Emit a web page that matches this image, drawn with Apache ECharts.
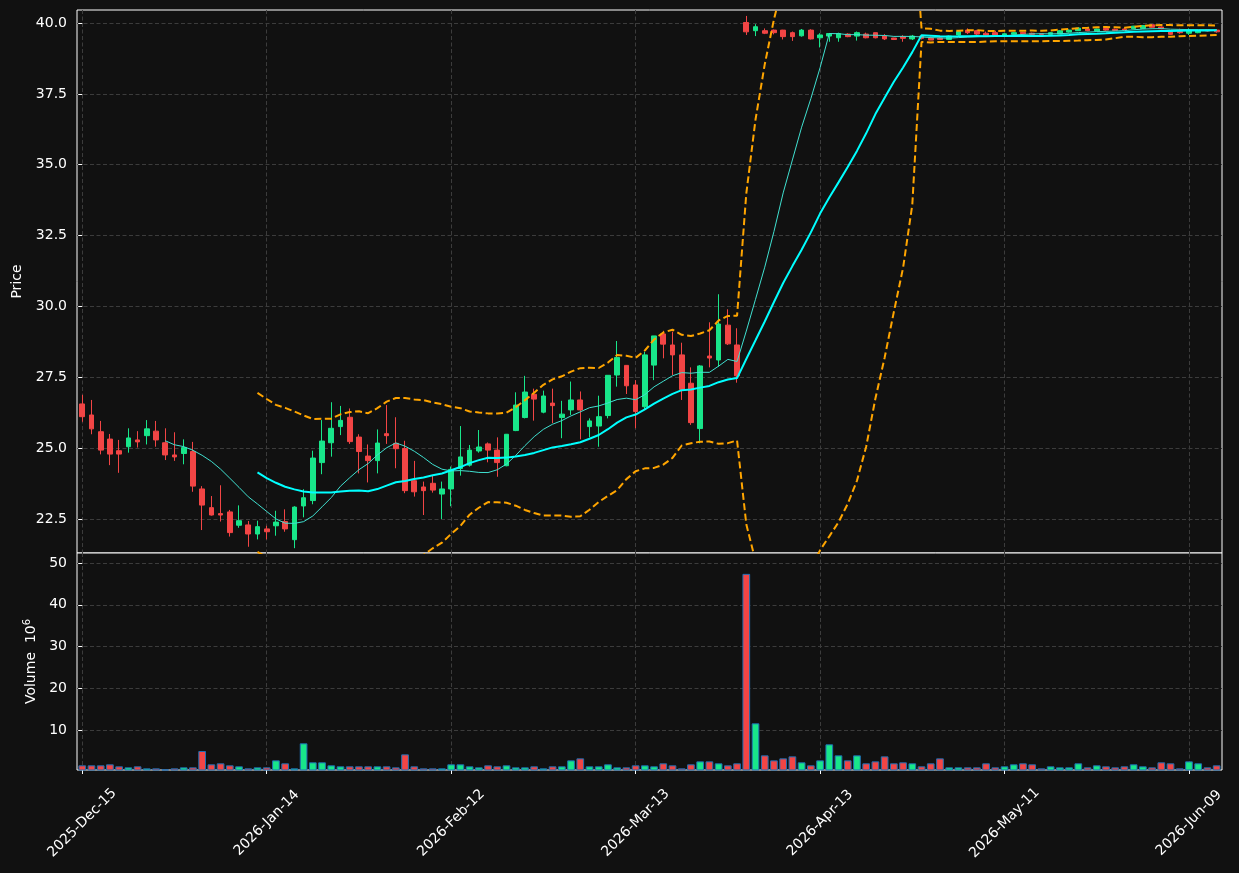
<!DOCTYPE html>
<html>
<head>
<meta charset="utf-8">
<title>Price / Volume</title>
<script src="https://cdn.jsdelivr.net/npm/echarts@6/dist/echarts.min.js"></script>
<style>
  html, body { margin: 0; padding: 0; background: #111111; }
  #main { width: 1239px; height: 873px; }
</style>
</head>
<body>
<div id="main"></div>
<script>
// x ticks: trading-day index -> label
const tickIdx = [0, 20, 40, 60, 80, 100, 120];
const tickLabels = ['2025-Dec-15', '2026-Jan-14', '2026-Feb-12', '2026-Mar-13', '2026-Apr-13', '2026-May-11', '2026-Jun-09'];
const priceTicks = [22.5, 25.0, 27.5, 30.0, 32.5, 35.0, 37.5, 40.0];
const volTicks = [10, 20, 30, 40, 50];

// OHLC
const opens = [
  26.56, 26.17, 25.58, 25.32, 24.91, 25.05, 25.29, 25.44, 25.60, 25.19,
  24.76, 24.81, 24.88, 23.56, 22.90, 22.69, 22.75, 22.28, 22.29, 21.97,
  22.15, 22.26, 22.41, 21.77, 22.96, 23.15, 24.49, 25.19, 25.76, 26.09,
  25.39, 24.72, 24.56, 25.51, 25.17, 24.99, 23.85, 23.63, 23.76, 23.38,
  23.56, 24.28, 24.40, 24.90, 25.15, 24.93, 24.38, 25.62, 26.08, 26.90,
  26.27, 26.59, 26.08, 26.35, 26.70, 25.76, 25.78, 26.15, 27.58, 27.92,
  27.23, 26.46, 27.93, 29.03, 28.64, 28.29, 27.29, 25.69, 28.25, 28.11,
  29.34, 28.64, 40.02, 39.73, 39.73, 39.75, 39.75, 39.66, 39.55, 39.75,
  39.48, 39.54, 39.48, 39.61, 39.54, 39.61, 39.66, 39.54, 39.47, 39.52,
  39.44, 39.54, 39.47, 39.47, 39.42, 39.58, 39.75, 39.73, 39.64, 39.66,
  39.56, 39.60, 39.67, 39.64, 39.62, 39.60, 39.61, 39.68, 39.73, 39.79,
  39.71, 39.81, 39.78, 39.79, 39.80, 39.81, 39.94, 39.86, 39.70, 39.70,
  39.64, 39.66, 39.76, 39.75
];
const highs = [
  26.88, 26.70, 25.96, 25.50, 25.29, 25.70, 25.60, 25.99, 25.96, 25.70,
  25.56, 25.31, 25.22, 23.66, 23.31, 23.69, 22.82, 22.98, 22.43, 22.44,
  22.26, 22.79, 22.84, 22.95, 23.55, 24.91, 25.99, 26.62, 26.49, 26.40,
  25.49, 25.13, 25.66, 26.52, 26.09, 25.26, 24.55, 23.82, 24.03, 23.82,
  24.35, 25.78, 25.11, 25.64, 25.20, 25.38, 25.50, 26.97, 27.55, 27.10,
  27.03, 27.10, 26.67, 27.35, 27.00, 26.05, 26.85, 27.58, 28.78, 27.93,
  27.40, 28.40, 28.96, 29.14, 29.11, 28.72, 27.85, 27.93, 29.44, 30.43,
  29.90, 29.23, 40.25, 39.96, 39.81, 39.77, 39.76, 39.70, 39.79, 39.78,
  39.64, 39.65, 39.66, 39.64, 39.70, 39.66, 39.66, 39.61, 39.48, 39.57,
  39.58, 39.58, 39.52, 39.50, 39.56, 39.72, 39.81, 39.76, 39.70, 39.73,
  39.64, 39.68, 39.69, 39.66, 39.63, 39.68, 39.75, 39.77, 39.85, 39.81,
  39.80, 39.83, 39.80, 39.80, 39.90, 39.92, 39.96, 39.88, 39.72, 39.80,
  39.81, 39.76, 39.78, 39.78
];
const lows = [
  25.93, 25.49, 24.78, 24.40, 24.13, 24.84, 25.02, 25.13, 25.05, 24.58,
  24.55, 24.43, 23.46, 22.11, 22.62, 22.41, 21.88, 22.19, 21.52, 21.78,
  21.78, 21.91, 22.05, 21.47, 22.56, 23.02, 24.08, 24.70, 25.46, 25.15,
  24.11, 23.79, 24.11, 25.15, 24.29, 23.41, 23.29, 22.64, 23.43, 22.50,
  22.95, 24.03, 24.35, 24.84, 24.50, 23.99, 24.36, 25.60, 26.05, 25.97,
  26.23, 25.88, 25.35, 26.17, 25.31, 25.38, 25.05, 26.05, 27.17, 26.91,
  25.70, 26.37, 27.40, 28.17, 27.58, 26.70, 25.82, 25.17, 27.85, 27.87,
  28.64, 27.31, 39.58, 39.54, 39.61, 39.60, 39.42, 39.37, 39.52, 39.42,
  39.14, 39.34, 39.34, 39.50, 39.38, 39.46, 39.46, 39.40, 39.40, 39.34,
  39.40, 39.42, 39.40, 39.40, 39.40, 39.56, 39.61, 39.58, 39.55, 39.56,
  39.54, 39.58, 39.60, 39.58, 39.58, 39.59, 39.60, 39.66, 39.72, 39.71,
  39.70, 39.73, 39.72, 39.74, 39.78, 39.80, 39.84, 39.78, 39.58, 39.62,
  39.58, 39.64, 39.70, 39.66
];
const closes = [
  26.11, 25.68, 24.93, 24.79, 24.79, 25.36, 25.22, 25.68, 25.29, 24.76,
  24.69, 25.02, 23.66, 22.99, 22.64, 22.64, 22.02, 22.44, 21.97, 22.23,
  22.05, 22.39, 22.15, 22.92, 23.25, 24.65, 25.25, 25.70, 25.98, 25.23,
  24.88, 24.56, 25.18, 25.44, 24.98, 23.50, 23.46, 23.50, 23.52, 23.56,
  24.25, 24.69, 24.93, 25.04, 24.93, 24.49, 25.49, 26.52, 26.98, 26.73,
  26.84, 26.50, 26.20, 26.70, 26.35, 25.96, 26.11, 27.57, 28.20, 27.20,
  26.29, 28.29, 28.96, 28.67, 28.29, 27.07, 25.90, 27.90, 28.18, 29.38,
  28.68, 27.55, 39.69, 39.87, 39.64, 39.66, 39.52, 39.52, 39.75, 39.44,
  39.58, 39.63, 39.63, 39.52, 39.66, 39.48, 39.48, 39.44, 39.42, 39.46,
  39.54, 39.46, 39.40, 39.42, 39.54, 39.70, 39.66, 39.61, 39.57, 39.58,
  39.62, 39.66, 39.62, 39.60, 39.60, 39.66, 39.73, 39.75, 39.82, 39.73,
  39.79, 39.75, 39.74, 39.76, 39.89, 39.91, 39.85, 39.80, 39.60, 39.66,
  39.73, 39.73, 39.72, 39.69
];
// volume in millions
const volumes = [
  1.54, 1.54, 1.54, 1.78, 1.30, 1.06, 1.30, 0.82, 0.82, 0.58,
  0.82, 1.06, 1.06, 4.97, 1.78, 2.02, 1.54, 1.30, 0.82, 1.06,
  1.06, 2.73, 2.02, 0.82, 6.81, 2.26, 2.26, 1.54, 1.30, 1.30,
  1.30, 1.30, 1.30, 1.30, 1.06, 4.17, 1.30, 0.82, 0.82, 0.82,
  1.78, 1.78, 1.30, 1.06, 1.54, 1.30, 1.54, 1.06, 1.06, 1.30,
  0.82, 1.30, 1.30, 2.73, 3.21, 1.30, 1.30, 1.78, 1.06, 1.06,
  1.54, 1.54, 1.30, 2.02, 1.54, 0.82, 1.78, 2.49, 2.49, 2.02,
  1.54, 2.02, 47.4, 11.6, 3.93, 2.73, 3.21, 3.69, 2.26, 1.54,
  2.73, 6.57, 3.93, 2.73, 3.93, 2.02, 2.49, 3.69, 2.02, 2.26,
  2.02, 1.30, 2.02, 3.21, 1.06, 1.06, 1.06, 1.06, 2.02, 1.06,
  1.30, 1.78, 2.02, 1.78, 0.82, 1.30, 1.06, 1.06, 2.02, 1.06,
  1.54, 1.30, 1.06, 1.30, 1.78, 1.30, 1.06, 2.26, 2.02, 0.82,
  2.49, 2.02, 1.06, 1.54
];

const upColor = '#18e68a';
const downColor = '#f24545';
const fontFam = 'DejaVu Sans';

// moving average / bollinger from closes
function rollingMean(arr, n) {
  const out = [];
  for (let i = n - 1; i < arr.length; i++) {
    let s = 0;
    for (let k = i - n + 1; k <= i; k++) s += arr[k];
    out.push([i, s / n]);
  }
  return out;
}
function bollinger(arr, n, mult, sign) {
  const out = [];
  for (let i = n - 1; i < arr.length; i++) {
    let s = 0;
    for (let k = i - n + 1; k <= i; k++) s += arr[k];
    const m = s / n;
    let v = 0;
    for (let k = i - n + 1; k <= i; k++) v += (arr[k] - m) * (arr[k] - m);
    const sd = Math.sqrt(v / (n - 1));
    out.push([i, m + sign * mult * sd]);
  }
  return out;
}

const candleData = opens.map((o, i) => [i, o, closes[i], lows[i], highs[i]]);
const volData = volumes.map((v, i) => ({
  value: [i, v],
  itemStyle: { color: closes[i] >= opens[i] ? upColor : downColor }
}));

const gridLine = { show: true, lineStyle: { color: '#3c3c3c', type: [4, 2.5], width: 1 } };
const xMin = -0.57;
const xMax = 123.58;

const myChart = echarts.init(document.getElementById('main'));
const option = {
  backgroundColor: '#111111',
  animation: false,
  textStyle: { fontFamily: fontFam },
  grid: [
    { left: 77, top: 10, width: 1145, height: 543, show: true, borderColor: '#ffffff', borderWidth: 1, backgroundColor: '#111111' },
    { left: 77, top: 553, width: 1145, height: 217, show: true, borderColor: '#ffffff', borderWidth: 1, backgroundColor: '#111111' }
  ],
  xAxis: [
    {
      type: 'value', gridIndex: 0, min: xMin, max: xMax,
      axisLine: { show: false },
      axisTick: { show: false, customValues: tickIdx },
      axisLabel: { show: false, customValues: tickIdx },
      splitLine: gridLine
    },
    {
      type: 'value', gridIndex: 1, min: xMin, max: xMax,
      axisLine: { show: false },
      axisTick: { show: true, customValues: tickIdx, length: 4, lineStyle: { color: '#ffffff' } },
      axisLabel: {
        customValues: tickIdx, rotate: 45, align: 'center', verticalAlign: 'middle', margin: 53,
        color: '#ffffff', fontSize: 14, fontFamily: fontFam,
        formatter: (v) => tickLabels[tickIdx.indexOf(Math.round(v))] || ''
      },
      splitLine: gridLine
    }
  ],
  yAxis: [
    {
      type: 'value', gridIndex: 0, min: 21.3, max: 40.46,
      name: 'Price', nameLocation: 'middle', nameGap: 53, nameRotate: 90,
      nameTextStyle: { color: '#ffffff', fontSize: 14, fontFamily: fontFam },
      axisLine: { show: false },
      axisTick: { show: true, customValues: priceTicks, length: 4, lineStyle: { color: '#ffffff' } },
      axisLabel: { customValues: priceTicks, color: '#ffffff', fontSize: 14, margin: 10, fontFamily: fontFam, formatter: (v) => v.toFixed(1) },
      splitLine: gridLine
    },
    {
      type: 'value', gridIndex: 1, min: 0.42, max: 52.4,
      name: 'Volume  10{sup|6}', nameLocation: 'middle', nameGap: 37, nameRotate: 90,
      nameTextStyle: {
        color: '#ffffff', fontSize: 14, fontFamily: fontFam,
        rich: { sup: { color: '#ffffff', fontSize: 10, fontFamily: fontFam, verticalAlign: 'top', padding: [0, 0, 7, 0] } }
      },
      axisLine: { show: false },
      axisTick: { show: true, customValues: volTicks, length: 4, lineStyle: { color: '#ffffff' } },
      axisLabel: { customValues: volTicks, color: '#ffffff', fontSize: 14, margin: 10, fontFamily: fontFam },
      splitLine: gridLine
    }
  ],
  series: [
    {
      name: 'candles', type: 'candlestick', xAxisIndex: 0, yAxisIndex: 0,
      data: candleData, encode: { x: 0, y: [1, 2, 3, 4] },
      barWidth: 5.2,
      itemStyle: { color: upColor, color0: downColor, borderColor: upColor, borderColor0: downColor, borderWidth: 1 },
      z: 2
    },
    {
      name: 'MA10', type: 'line', xAxisIndex: 0, yAxisIndex: 0,
      data: rollingMean(closes, 10), showSymbol: false, symbol: 'none',
      lineStyle: { color: '#40e0d0', width: 1 }, z: 3
    },
    {
      name: 'MA20', type: 'line', xAxisIndex: 0, yAxisIndex: 0,
      data: rollingMean(closes, 20), showSymbol: false, symbol: 'none',
      lineStyle: { color: '#00ffff', width: 2 }, z: 3
    },
    {
      name: 'BB upper', type: 'line', xAxisIndex: 0, yAxisIndex: 0,
      data: bollinger(closes, 20, 2, 1), showSymbol: false, symbol: 'none',
      lineStyle: { color: '#ffa500', width: 2, type: [7, 3.5] }, z: 3
    },
    {
      name: 'BB lower', type: 'line', xAxisIndex: 0, yAxisIndex: 0,
      data: bollinger(closes, 20, 2, -1), showSymbol: false, symbol: 'none',
      lineStyle: { color: '#ffa500', width: 2, type: [7, 3.5] }, z: 3
    },
    {
      name: 'volume', type: 'bar', xAxisIndex: 1, yAxisIndex: 1,
      data: volData, barWidth: 7.7,
      itemStyle: { borderColor: '#1f6fb4', borderWidth: 1 }
    }
  ]
};
myChart.setOption(option);
</script>
</body>
</html>
